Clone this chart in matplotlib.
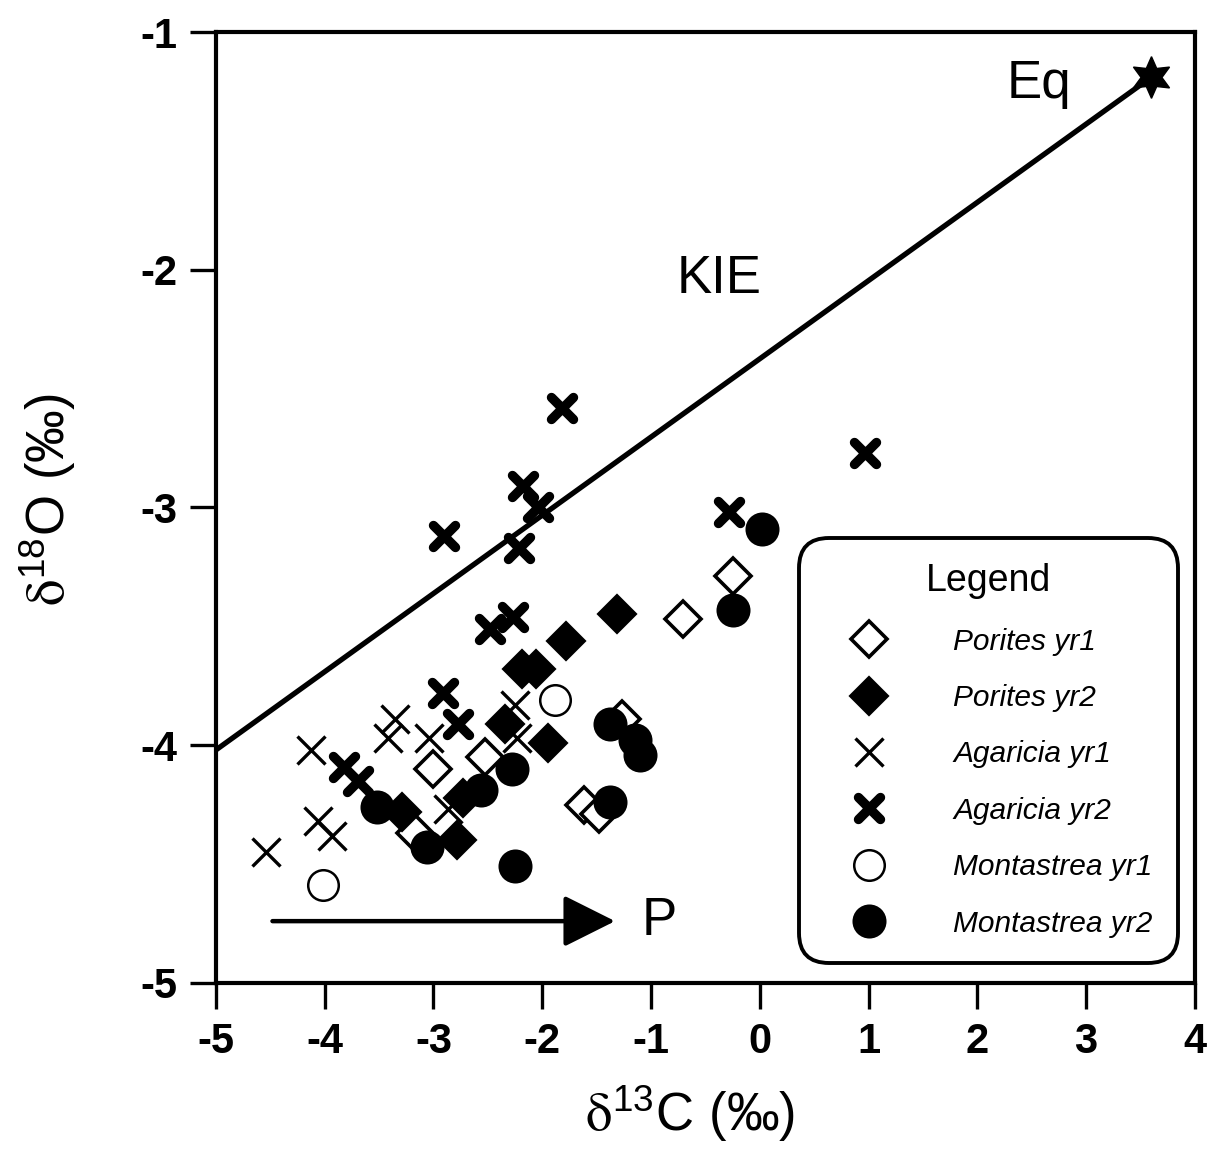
import matplotlib
matplotlib.use("Agg")
from matplotlib import pyplot as plt
from matplotlib.markers import MarkerStyle

plt.rcParams["font.family"] = ["Liberation Sans", "DejaVu Sans"]
plt.rcParams["mathtext.fontset"] = "stix"
plt.rcParams["axes.unicode_minus"] = False

# Porites
porites_yr1_x = [-0.25, -0.71, -2.53, -3.00, -1.62, -1.48, -3.17, -1.27]
porites_yr1_y = [-3.29, -3.47, -4.05, -4.10, -4.25, -4.29, -4.37, -3.89]
porites_yr2_x = [-1.31, -1.78, -2.19, -2.06, -2.34, -1.95, -3.29, -2.78, -2.73]
porites_yr2_y = [-3.45, -3.56, -3.68, -3.68, -3.91, -3.99, -4.28, -4.40, -4.22]

# Agaricia
agaricia_yr1_x = [-4.54, -4.06, -3.93, -4.13, -3.35, -3.42, -3.04, -2.25, -2.23, -2.87]
agaricia_yr1_y = [-4.45, -4.32, -4.38, -4.02, -3.89, -3.97, -3.97, -3.83, -3.97, -4.27]
agaricia_yr2_x = [-1.82, 0.97, -0.28, -2.90, -2.18, -2.04, -2.21, -2.27, -2.48,
                  -2.91, -2.77, -3.82, -3.69]
agaricia_yr2_y = [-2.58, -2.77, -3.02, -3.12, -2.91, -3.00, -3.17, -3.46, -3.51,
                  -3.78, -3.91, -4.09, -4.15]

# Montastrea
montastrea_yr1_x = [-4.02, -1.88]
montastrea_yr1_y = [-4.59, -3.81]
montastrea_yr2_x = [0.02, -0.25, -1.38, -1.15, -1.10, -1.38, -2.25, -2.28, -2.56, -3.06, -3.52]
montastrea_yr2_y = [-3.09, -3.43, -3.91, -3.98, -4.04, -4.24, -4.51, -4.10, -4.19, -4.43, -4.26]

# equilibrium point and KIE line
eq_x, eq_y = 3.6, -1.19
kie_x = [-5.0, 3.6]
kie_y = [-4.02, -1.19]

fig = plt.figure(figsize=(12.13, 11.56), dpi=100)
ax = fig.add_axes([0.178, 0.1497, 0.807, 0.8226])

ax.plot(kie_x, kie_y, color="black", lw=3.8, zorder=2)
ax.plot([eq_x], [eq_y], marker=(6, 1, 0), ms=30, color="black", ls="none", zorder=5)

thin_x = MarkerStyle("x", capstyle="butt")
thick_x = MarkerStyle("x", capstyle="round")

ax.plot(porites_yr1_x, porites_yr1_y, ls="none", marker="D", ms=18,
        mfc="white", mec="black", mew=2.6, label="Porites yr1", zorder=3)
ax.plot(porites_yr2_x, porites_yr2_y, ls="none", marker="D", ms=18,
        mfc="black", mec="black", mew=2.6, label="Porites yr2", zorder=3)
ax.plot(agaricia_yr1_x, agaricia_yr1_y, ls="none", marker=thin_x, ms=20,
        mec="black", mew=2.4, label="Agaricia yr1", zorder=3)
ax.plot(agaricia_yr2_x, agaricia_yr2_y, ls="none", marker=thick_x, ms=15.5,
        mec="black", mew=6.8, label="Agaricia yr2", zorder=3)
ax.plot(montastrea_yr1_x, montastrea_yr1_y, ls="none", marker="o", ms=22,
        mfc="white", mec="black", mew=1.8, label="Montastrea yr1", zorder=4)
ax.plot(montastrea_yr2_x, montastrea_yr2_y, ls="none", marker="o", ms=23,
        mfc="black", mec="black", mew=1.5, label="Montastrea yr2", zorder=4)

# annotations
ax.text(2.57, -1.22, "Eq", fontsize=38, ha="center", va="center")
ax.text(-0.37, -2.04, "KIE", fontsize=38, ha="center", va="center")
ax.text(-0.92, -4.74, "P", fontsize=38, ha="center", va="center")
ax.annotate("", xy=(-1.33, -4.74), xytext=(-4.48, -4.74),
            arrowprops=dict(arrowstyle="-|>,head_length=1.0,head_width=0.5",
                            mutation_scale=32, lw=3.2, color="black",
                            shrinkA=0, shrinkB=0))

ax.set_xlim(-5, 4)
ax.set_ylim(-5, -1)
ax.set_xticks(range(-5, 5))
ax.set_yticks(range(-5, 0))
ax.tick_params(direction="out", length=19, width=2.4, labelsize=30, pad=9)
for lab in ax.get_xticklabels() + ax.get_yticklabels():
    lab.set_fontweight("bold")
for s in ax.spines.values():
    s.set_linewidth(3.0)

ax.set_xlabel(r"$\mathrm{\delta}^{\mathregular{13}}$C (‰)", fontsize=38)
ax.xaxis.set_label_coords(0.484, -0.105)
ax.set_ylabel(r"$\mathrm{\delta}^{\mathregular{18}}$O (‰)", fontsize=38)
ax.yaxis.set_label_coords(-0.141, 0.508)

leg = ax.legend(loc="lower right", bbox_to_anchor=(0.983, 0.021), borderaxespad=0,
                title="Legend", title_fontproperties={"size": 27},
                prop={"style": "italic", "size": 21.5},
                borderpad=0.85, handlelength=2.98, handletextpad=1.35,
                labelspacing=0.95, frameon=True, fancybox=True, framealpha=1)
frame = leg.get_frame()
frame.set_edgecolor("black")
frame.set_linewidth(2.8)
frame.set_boxstyle("round,pad=0,rounding_size=1.0")

fig.savefig("out.png", dpi=100)
